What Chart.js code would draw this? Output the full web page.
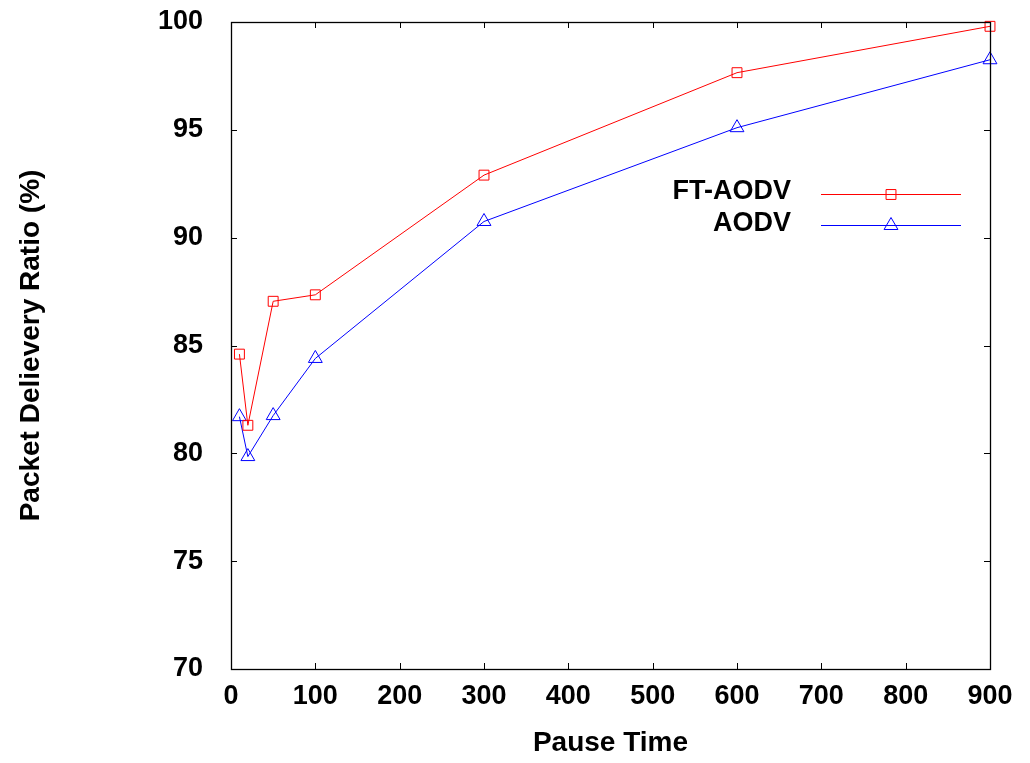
<!DOCTYPE html>
<html>
<head>
<meta charset="utf-8">
<script src="https://cdn.jsdelivr.net/npm/chart.js@4.4.1/dist/chart.umd.min.js"></script>
<style>
  html, body { margin: 0; padding: 0; background: #fff; }
  #wrap { width: 1030px; height: 763px; }
</style>
</head>
<body>
<div id="wrap"><canvas id="c" width="1030" height="763"></canvas></div>
<script>
const pauseTimes = [10, 20, 50, 100, 300, 600, 900];
const ftAodv = [84.6, 81.3, 87.05, 87.35, 92.9, 97.65, 99.8];
const aodv = [81.7, 79.85, 81.75, 84.4, 90.75, 95.1, 98.25];
const seriesNames = ['FT-AODV', 'AODV'];
const xTitle = 'Pause Time';
const yTitle = 'Packet Delievery Ratio (%)';

const FONT = '"Liberation Sans", Arial, Helvetica, sans-serif';

function pts(ys) { return pauseTimes.map((x, i) => ({ x: x, y: ys[i] })); }

const frameAndTicks = {
  id: 'frameAndTicks',
  afterDatasetsDraw(chart) {
    const { ctx, chartArea: a, scales } = chart;
    const tl = 6;
    ctx.save();
    ctx.strokeStyle = '#000';
    ctx.lineWidth = 1;
    ctx.beginPath();
    scales.x.ticks.forEach(t => {
      const px = Math.round(scales.x.getPixelForValue(t.value)) + 0.5;
      ctx.moveTo(px, a.bottom); ctx.lineTo(px, a.bottom - tl);
      ctx.moveTo(px, a.top); ctx.lineTo(px, a.top + tl);
    });
    scales.y.ticks.forEach(t => {
      const py = Math.round(scales.y.getPixelForValue(t.value)) + 0.5;
      ctx.moveTo(a.left, py); ctx.lineTo(a.left + tl, py);
      ctx.moveTo(a.right, py); ctx.lineTo(a.right - tl, py);
    });
    ctx.stroke();
    ctx.lineWidth = 1.3;
    ctx.strokeRect(Math.round(a.left) + 0.5, Math.round(a.top) + 0.5,
                   Math.round(a.right - a.left), Math.round(a.bottom - a.top));
    ctx.restore();
  }
};

const keyBox = {
  id: 'keyBox',
  afterDraw(chart) {
    const { ctx, chartArea: a } = chart;
    ctx.save();
    chart.data.datasets.forEach((ds, i) => {
      const y = a.top + 172 + i * 31.4;
      ctx.font = 'bold 27px ' + FONT;
      ctx.fillStyle = '#000';
      ctx.textAlign = 'right';
      ctx.textBaseline = 'middle';
      ctx.fillText(ds.label, a.right - 199, y - 2);
      ctx.strokeStyle = ds.borderColor;
      ctx.lineWidth = 1;
      ctx.beginPath();
      ctx.moveTo(a.right - 169, Math.round(y) + 0.5);
      ctx.lineTo(a.right - 29, Math.round(y) + 0.5);
      ctx.stroke();
      ctx.fillStyle = 'rgba(0,0,0,0)';
      ctx.strokeStyle = ds.pointBorderColor;
      Chart.helpers.drawPoint(ctx, {
        pointStyle: ds.pointStyle, radius: ds.pointRadius, rotation: 0,
        borderWidth: 1
      }, a.right - 99, Math.round(y) + 0.5);
    });
    ctx.restore();
  }
};

new Chart(document.getElementById('c'), {
  type: 'line',
  data: {
    datasets: [
      {
        label: seriesNames[0], data: pts(ftAodv),
        borderColor: '#ff0000', backgroundColor: 'rgba(0,0,0,0)',
        borderWidth: 1, pointStyle: 'rect', pointRadius: 7,
        pointBorderColor: '#ff0000', pointBackgroundColor: 'rgba(0,0,0,0)',
        pointBorderWidth: 1, tension: 0, clip: false
      },
      {
        label: seriesNames[1], data: pts(aodv),
        borderColor: '#0000ff', backgroundColor: 'rgba(0,0,0,0)',
        borderWidth: 1, pointStyle: 'triangle', pointRadius: 8,
        pointBorderColor: '#0000ff', pointBackgroundColor: 'rgba(0,0,0,0)',
        pointBorderWidth: 1, tension: 0, clip: false
      }
    ]
  },
  options: {
    responsive: false,
    animation: false,
    layout: { padding: { left: 0, top: 22, right: 40, bottom: 0 } },
    plugins: { legend: { display: false }, tooltip: { enabled: false } },
    scales: {
      x: {
        type: 'linear', min: 0, max: 900,
        ticks: { stepSize: 100, padding: 11, color: '#000', font: { family: FONT, size: 27, weight: 'bold' }, maxRotation: 0 },
        grid: { display: false, drawTicks: false },
        border: { display: false },
        title: { display: true, text: xTitle, color: '#000', padding: { top: 0, bottom: 3 }, font: { family: FONT, size: 28, weight: 'bold', lineHeight: 1.2 } },
        afterFit(s) { s.height = 94; s.paddingLeft = 0; s.paddingRight = 0; s.paddingTop = 0; s.paddingBottom = 0; }
      },
      y: {
        type: 'linear', min: 70, max: 100,
        ticks: { stepSize: 5, padding: 28, color: '#000', font: { family: FONT, size: 27, weight: 'bold' } },
        grid: { display: false, drawTicks: false },
        border: { display: false },
        title: { display: true, text: yTitle, color: '#000', padding: { top: 14, bottom: 0 }, font: { family: FONT, size: 28, weight: 'bold', lineHeight: 1.2 } },
        afterFit(s) { s.width = 231; s.paddingTop = 0; s.paddingBottom = 0; s.paddingLeft = 0; s.paddingRight = 0; }
      }
    }
  },
  plugins: [frameAndTicks, keyBox]
});
</script>
</body>
</html>
